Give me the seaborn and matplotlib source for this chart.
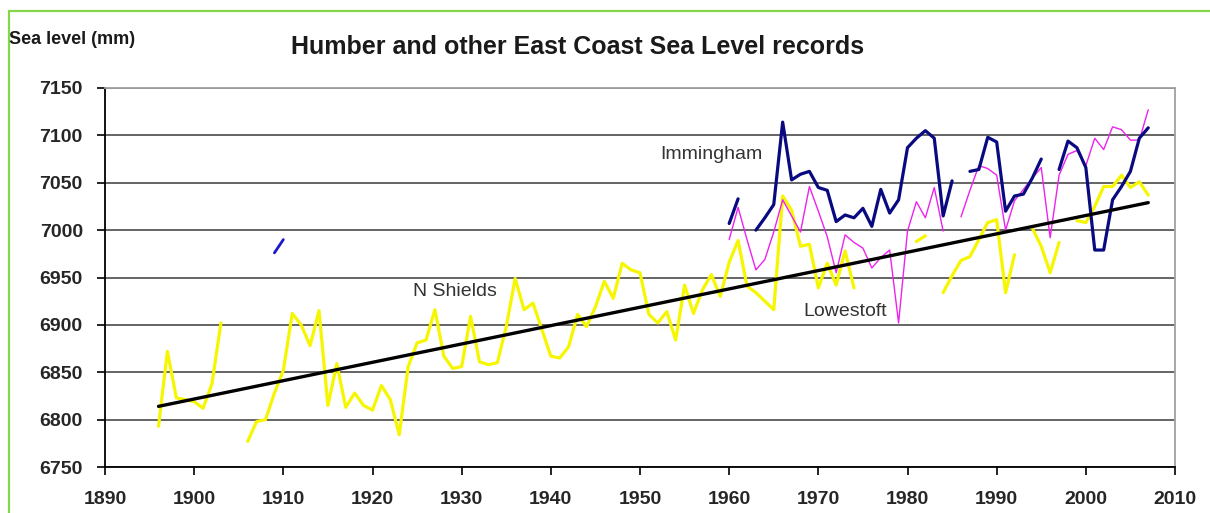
import numpy as np
import pandas as pd
import matplotlib
matplotlib.use("Agg")
import matplotlib.pyplot as plt
from matplotlib.patches import Rectangle
import seaborn as sns

nan = np.nan

# Annual mean sea level, mm (gaps are years without a record)
ns_years = list(range(1896, 2008))
n_shields = [
    6793, 6872, 6823, 6821, 6819, 6812, 6838, 6902,              # 1896-1903
    nan, nan,                                                    # 1904-1905
    6777, 6798, 6800, 6828, 6852, 6912, 6900, 6878, 6915, 6815,  # 1906-1915
    6859, 6813, 6828, 6815, 6810, 6836, 6821, 6784, 6856, 6881,  # 1916-1925
    6884, 6916, 6867, 6854, 6856, 6909, 6861, 6858, 6860, 6898,  # 1926-1935
    6949, 6916, 6923, 6895, 6867, 6865, 6877, 6911, 6898, 6919,  # 1936-1945
    6946, 6928, 6965, 6958, 6955, 6911, 6902, 6914, 6884, 6942,  # 1946-1955
    6912, 6937, 6953, 6930, 6966, 6989, 6941, 6934, 6925, 6916,  # 1956-1965
    7036, 7021, 6983, 6985, 6939, 6965, 6942, 6978, 6939,        # 1966-1974
    nan, nan, nan, nan, nan, nan,                                # 1975-1980
    6988, 6994, nan,                                             # 1981-1983
    6934, 6952, 6968, 6972, 6990, 7008, 7011, 6934, 6974, nan,   # 1984-1993
    7002, 6983, 6955, 6987, nan,                                 # 1994-1998
    7010, 7008, 7025, 7046, 7046, 7058, 7045, 7051, 7037,        # 1999-2007
]

modern_years = list(range(1960, 2008))
immingham = [
    7007, 7033, nan, 7000, 7013, 7027, 7114, 7053, 7059, 7062,   # 1960-1969
    7045, 7042, 7009, 7016, 7013, 7023, 7004, 7043, 7018, 7032,  # 1970-1979
    7087, 7097, 7105, 7097, 7015, 7052, nan, 7062, 7064, 7098,   # 1980-1989
    7093, 7020, 7036, 7038, 7055, 7075, nan, 7064, 7094, 7087,   # 1990-1999
    7066, 6979, 6979, 7032, 7046, 7062, 7097, 7108,              # 2000-2007
]
lowestoft = [
    6990, 7024, 6990, 6958, 6969, 6998, 7032, 7015, 6998, 7046,  # 1960-1969
    7020, 6993, 6955, 6995, 6987, 6981, 6960, 6971, 6979, 6902,  # 1970-1979
    6999, 7030, 7013, 7045, 6999, nan, 7014, 7042, 7068, 7065,   # 1980-1989
    7058, 7000, 7031, 7043, 7055, 7066, 6992, 7058, 7080, 7084,  # 1990-1999
    7068, 7097, 7085, 7109, 7106, 7095, 7095, 7127,              # 2000-2007
]

early_years = [1909, 1910]
immingham_early = [6976, 6990]

trend_years = [1896, 2007]
trend_values = [6814, 7029]

x_ticks = list(range(1890, 2011, 10))
y_ticks = list(range(6750, 7151, 50))


def segments(years, values):
    df = pd.DataFrame({"year": years, "value": values})
    df["segment"] = df["value"].isna().cumsum()
    return df.dropna()


sns.set_theme(style="white")
plt.rcParams["font.family"] = ["Liberation Sans", "DejaVu Sans"]

fig = plt.figure(figsize=(12.10, 5.13), dpi=100)
ax = fig.add_axes([105 / 1210, 1 - 467 / 513, (1175 - 105) / 1210, (467 - 88) / 513])

line_kw = dict(x="year", y="value", units="segment", estimator=None,
               sort=False, legend=False, ax=ax)
sns.lineplot(data=segments(ns_years, n_shields), color="#f6f600",
             linewidth=2.3, **line_kw)
sns.lineplot(data=segments(modern_years, lowestoft), color="#ee22ee",
             linewidth=1.0, **line_kw)
sns.lineplot(data=segments(modern_years, immingham), color="#0a0a80",
             linewidth=2.3, **line_kw)
sns.lineplot(data=segments(early_years, immingham_early), color="#1a1acc",
             linewidth=2.0, **line_kw)
sns.lineplot(data=segments(trend_years, trend_values), color="black",
             linewidth=2.4, **line_kw)

ax.set_xlim(1890, 2010)
ax.set_ylim(6750, 7150)
ax.set_xticks(x_ticks)
ax.set_yticks(y_ticks)
ax.set_xlabel("")
ax.set_ylabel("")
ax.grid(axis="y", color="#4a4a4a", linewidth=1.2)
ax.grid(axis="x", visible=False)
ax.set_axisbelow(True)

for side in ("left", "bottom"):
    ax.spines[side].set_color("black")
    ax.spines[side].set_linewidth(1.3)
for side in ("top", "right"):
    ax.spines[side].set_color("#a0a0a0")
    ax.spines[side].set_linewidth(1.3)

tick_font = dict(family=["Liberation Sans", "DejaVu Sans"],
                 weight="bold", size=14)
ax.tick_params(axis="both", which="major", direction="out", length=6,
               width=1.2, color="black", left=True, bottom=True)
ax.tick_params(axis="y", pad=10)
ax.tick_params(axis="x", pad=11)
for lab in ax.get_xticklabels() + ax.get_yticklabels():
    lab.set_fontproperties(matplotlib.font_manager.FontProperties(**tick_font))

label_kw = dict(fontsize=14, color="#333333", ha="center", va="center")
ax.text(1958.0, 7080, "Immingham", **label_kw)
ax.text(1929.3, 6935, "N Shields", **label_kw)
ax.text(1973.0, 6914, "Lowestoft", **label_kw)

fig.text(578 / 1210, 1 - 47 / 513, "Humber and other East Coast Sea Level records",
         ha="center", va="center", fontsize=18, fontweight="bold", color="#1a1a1a")
fig.text(9 / 1210, 1 - 40 / 513, "Sea level (mm)", ha="left", va="center",
         fontsize=13, fontweight="bold", color="#1a1a1a")

fig.add_artist(Rectangle((8.5 / 1210, -0.2), 1.2, 1 - 10.5 / 513 + 0.2,
                         transform=fig.transFigure, fill=False,
                         edgecolor="#86d64a", linewidth=1.6))

fig.savefig("out.png", dpi=100)
